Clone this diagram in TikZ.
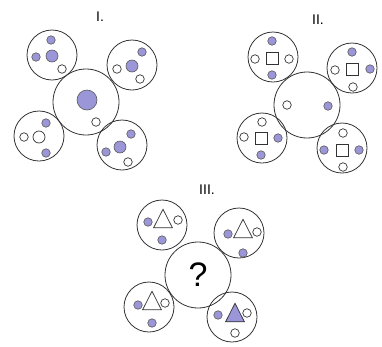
\documentclass[tikz,border=0pt]{standalone}
\usepackage{fontspec}
\setmainfont{Liberation Sans}
\usetikzlibrary{shapes.geometric}
\definecolor{dotpurple}{RGB}{155,150,215}
\begin{document}
\begin{tikzpicture}[x=1pt, y=-1pt]
    % Define styles
    \tikzstyle{ring} = [circle, draw=black!80, line width=0.8pt, minimum size=50pt, inner sep=0pt]
    \tikzstyle{hub} = [ring, minimum size=66pt]
    \tikzstyle{dot} = [circle, draw=black!65, fill=dotpurple, line width=0.6pt, minimum size=8.5pt, inner sep=0pt]
    \tikzstyle{hole} = [circle, draw=black!80, fill=white, line width=0.7pt, minimum size=8.5pt, inner sep=0pt]
    \tikzstyle{bigdot} = [dot, minimum size=12pt]
    \tikzstyle{bighole} = [hole, minimum size=12pt]
    \tikzstyle{box} = [rectangle, draw=black!80, line width=0.7pt, minimum size=12pt, inner sep=0pt]
    \tikzstyle{tri} = [isosceles triangle, isosceles triangle apex angle=54, shape border rotate=90, draw=black!80, line width=0.7pt, minimum height=18.5pt, inner sep=0pt]
    \tikzstyle{title} = [font=\fontsize{14}{14}\selectfont]

    \useasboundingbox (0,0) rectangle (382,346);

    % Figure I
    \node (titleI) [title] at (100,17) {I.};
    \node (hubI) [hub] at (86,102) {};
    \node (hubIdot) [dot, minimum size=20pt] at (87,100) {};
    \node (hubIhole) [hole] at (96,122) {};

    \node (satIa) [ring] at (52,55) {};
    \node [dot] at (51,40) {};
    \node [dot] at (36,57) {};
    \node [bigdot] at (52,56) {};
    \node [hole] at (62,69) {};

    \node (satIb) [ring] at (132,65) {};
    \node [dot] at (142,52) {};
    \node [bigdot] at (132,66) {};
    \node [hole] at (117,69) {};
    \node [hole] at (140,79) {};

    \node (satIc) [ring] at (39,136) {};
    \node [dot] at (46,123) {};
    \node [bighole] at (39,137) {};
    \node [hole] at (24,137) {};
    \node [dot] at (46,153) {};

    \node (satId) [ring] at (122,145) {};
    \node [dot] at (131,134) {};
    \node [bigdot] at (120,147) {};
    \node [dot] at (106,152) {};
    \node [hole] at (128,162) {};

    % Figure II
    \node (titleII) [title] at (318,20) {II.};
    \node (hubII) [hub] at (307,105) {};
    \node [hole] at (287,105) {};
    \node [dot] at (328,106) {};

    \node (satIIa) [ring] at (273,57) {};
    \node [box] at (272,58) {};
    \node [dot] at (272,41) {};
    \node [dot] at (272,75) {};
    \node [hole] at (255,59) {};
    \node [hole] at (289,59) {};

    \node (satIIb) [ring] at (352,68) {};
    \node [box] at (352,69) {};
    \node [dot] at (352,52) {};
    \node [dot] at (370,69) {};
    \node [hole] at (335,70) {};
    \node [hole] at (353,87) {};

    \node (satIIc) [ring] at (262,138) {};
    \node [box] at (261,138) {};
    \node [hole] at (262,122) {};
    \node [hole] at (244,137) {};
    \node [dot] at (278,138) {};
    \node [dot] at (261,155) {};

    \node (satIId) [ring] at (342,148) {};
    \node [box] at (342,150) {};
    \node [hole] at (343,133) {};
    \node [dot] at (324,150) {};
    \node [dot] at (359,150) {};
    \node [hole] at (343,167) {};

    % Figure III
    \node (titleIII) [title] at (207,190) {III.};
    \node (hubIII) [hub, font=\fontsize{34}{34}\selectfont] at (198,275) {?};

    \node (satIIIa) [ring] at (162,225) {};
    \node [tri] at (163,222) {};
    \node [dot] at (148,222) {};
    \node [hole] at (178,220) {};
    \node [dot] at (162,240) {};

    \node (satIIIb) [ring] at (239,233) {};
    \node [tri] at (243,232) {};
    \node [dot] at (228,234) {};
    \node [hole] at (257,232) {};
    \node [dot] at (243,253) {};

    \node (satIIIc) [ring] at (149,307) {};
    \node [tri] at (152,304) {};
    \node [dot] at (138,305) {};
    \node [hole] at (165,303) {};
    \node [dot] at (152,323) {};

    \node (satIIId) [ring] at (232,317) {};
    \node [tri, fill=dotpurple] at (235,316) {};
    \node [dot] at (218,315) {};
    \node [hole] at (247,313) {};
    \node [hole] at (235,333) {};
\end{tikzpicture}
\end{document}
